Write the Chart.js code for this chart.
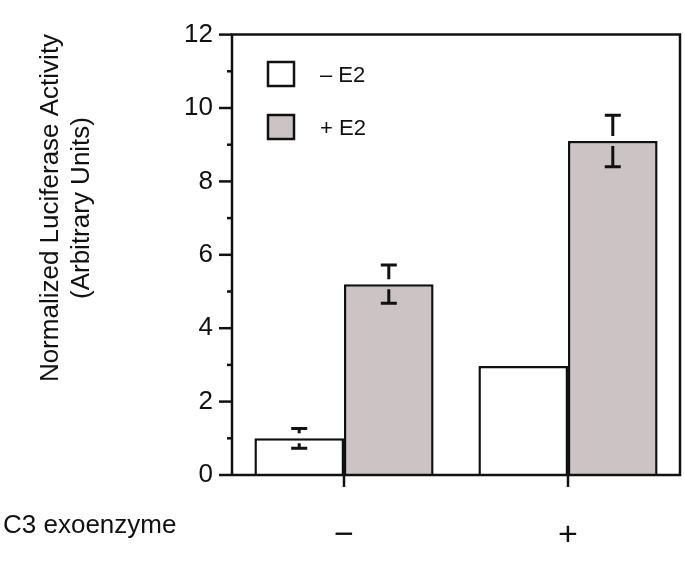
<!DOCTYPE html>
<html>
<head>
<meta charset="utf-8">
<script src="https://cdn.jsdelivr.net/npm/chart.js@4.4.0/dist/chart.umd.min.js"></script>
<style>
  body { margin: 0; background: #fff; }
  #wrap { width: 685px; height: 562px; }
</style>
</head>
<body>
<div id="wrap"><canvas id="bar_chart" width="685" height="562"></canvas></div>
<script>
// data
var categories = ["\u2212", "+"];
var seriesNames = ["\u2013 E2", "+ E2"];
var minusE2 = [1.0, 2.97];
var plusE2 = [5.2, 9.1];
var minusE2Err = [0.27, 0];
var plusE2Err = [0.52, 0.7];
var yTicks = [0, 2, 4, 6, 8, 10, 12];

var FONT = "'Liberation Sans', Arial, Helvetica, sans-serif";
var INK = '#111';
var LW = 2.5;

var extras = {
  id: 'extras',
  afterDatasetsDraw: function (chart) {
    var ctx = chart.ctx;
    var a = chart.chartArea;
    var xs = chart.scales.x, ys = chart.scales.y;
    ctx.save();
    ctx.strokeStyle = INK;
    ctx.lineWidth = LW;
    ctx.lineCap = 'butt';

    // frame
    ctx.beginPath();
    ctx.moveTo(a.left, a.bottom);
    ctx.lineTo(a.left, a.top);
    ctx.lineTo(a.right, a.top);
    ctx.lineTo(a.right, a.bottom);
    ctx.lineTo(a.left, a.bottom);
    ctx.stroke();

    // y ticks, major on even values, minor on odd
    for (var v = 0; v <= 12; v++) {
      var y = ys.getPixelForValue(v);
      var len = (v % 2 === 0) ? 13 : 5;
      ctx.beginPath();
      ctx.moveTo(a.left - len, y);
      ctx.lineTo(a.left, y);
      ctx.stroke();
    }
    // x ticks at category centres
    for (var i = 0; i < categories.length; i++) {
      var x = xs.getPixelForValue(i);
      ctx.beginPath();
      ctx.moveTo(x, a.bottom);
      ctx.lineTo(x, a.bottom + 12);
      ctx.stroke();
    }

    // error bars, with a small gap at the bar top
    var errs = [minusE2Err, plusE2Err];
    var vals = [minusE2, plusE2];
    ctx.lineWidth = 3;
    for (var d = 0; d < 2; d++) {
      var meta = chart.getDatasetMeta(d);
      meta.data.forEach(function (bar, j) {
        var e = errs[d][j];
        if (!e) return;
        var top = ys.getPixelForValue(vals[d][j]);
        var hi = ys.getPixelForValue(vals[d][j] + e);
        var lo = ys.getPixelForValue(vals[d][j] - e);
        var bx = bar.x;
        ctx.beginPath();
        ctx.moveTo(bx - 8, hi); ctx.lineTo(bx + 8, hi);
        ctx.moveTo(bx, hi); ctx.lineTo(bx, top - 5);
        ctx.moveTo(bx, top + 5); ctx.lineTo(bx, lo);
        ctx.moveTo(bx - 8, lo); ctx.lineTo(bx + 8, lo);
        ctx.stroke();
      });
    }
    ctx.lineWidth = LW;

    // legend inside the plot
    var fills = ['#ffffff', '#cbc3c4'];
    var rows = [62, 115];
    ctx.font = '22px ' + FONT;
    ctx.textBaseline = 'alphabetic';
    for (var k = 0; k < 2; k++) {
      ctx.fillStyle = fills[k];
      ctx.fillRect(268, rows[k], 26, 24);
      ctx.strokeRect(268, rows[k], 26, 24);
      ctx.fillStyle = INK;
      ctx.fillText(seriesNames[k], 320, rows[k] + 20);
    }

    // y axis title
    ctx.save();
    ctx.translate(0, 208);
    ctx.rotate(-Math.PI / 2);
    ctx.textAlign = 'center';
    ctx.textBaseline = 'middle';
    ctx.font = '26px ' + FONT;
    ctx.fillText('Normalized Luciferase Activity', 0, 51);
    ctx.fillText('(Arbitrary Units)', 0, 82);
    ctx.restore();

    // x axis row label
    ctx.font = '26px ' + FONT;
    ctx.textAlign = 'left';
    ctx.fillText('C3 exoenzyme', 3, 533);
    ctx.restore();
  }
};

new Chart(document.getElementById('bar_chart').getContext('2d'), {
  type: 'bar',
  data: {
    labels: categories,
    datasets: [{
      label: seriesNames[0],
      data: minusE2,
      backgroundColor: '#ffffff',
      borderColor: INK,
      borderWidth: LW
    }, {
      label: seriesNames[1],
      data: plusE2,
      backgroundColor: '#cbc3c4',
      borderColor: INK,
      borderWidth: LW
    }]
  },
  options: {
    responsive: false,
    animation: false,
    layout: { padding: { top: 26, right: 5, left: 0, bottom: 0 } },
    plugins: { legend: { display: false }, tooltip: { enabled: false } },
    datasets: { bar: { categoryPercentage: 0.8, barPercentage: 1.0 } },
    scales: {
      x: {
        offset: true,
        grid: { display: false, drawTicks: false },
        border: { display: false },
        ticks: { color: INK, font: { family: FONT, size: 34 }, padding: 40 },
        afterFit: function (s) { s.height = 87; }
      },
      y: {
        min: 0,
        max: 12,
        grid: { display: false, drawTicks: false },
        border: { display: false },
        afterBuildTicks: function (s) {
          s.ticks = yTicks.map(function (v) { return { value: v }; });
        },
        ticks: { color: INK, font: { family: FONT, size: 26 }, padding: 19 },
        afterFit: function (s) { s.width = 232; }
      }
    }
  },
  plugins: [extras]
});
</script>
</body>
</html>
